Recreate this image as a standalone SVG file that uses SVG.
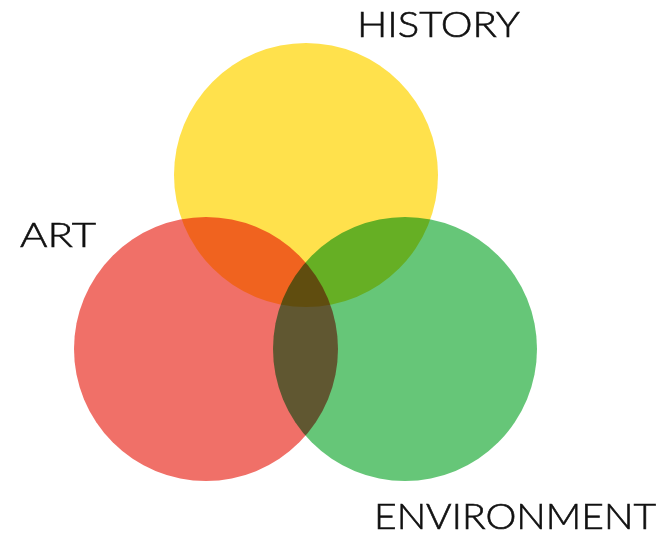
<svg xmlns="http://www.w3.org/2000/svg" width="671" height="535" viewBox="0 0 671 535">
<style>
.c{mix-blend-mode:multiply}
.t{font-family:Lato,"Liberation Sans",Arial,sans-serif;fill:#111;font-weight:300;stroke:#111;stroke-width:0.6}
</style>
<rect width="671" height="535" fill="#fff"/>
<g style="isolation:isolate">
<g id="history"><circle class="c" cx="306" cy="175" r="132" fill="#FFE14C"/></g>
<g id="art"><circle class="c" cx="206" cy="349" r="132" fill="#F07068"/></g>
<g id="environment"><circle class="c" cx="405" cy="349" r="132" fill="#66C678"/></g>
</g>
<g id="connectors"></g>
<g id="labels">
<text class="t" x="357" y="37" font-size="36" textLength="163" lengthAdjust="spacingAndGlyphs">HISTORY</text>
<text class="t" x="20" y="247" font-size="34" textLength="76" lengthAdjust="spacingAndGlyphs">ART</text>
<text class="t" x="374" y="529" font-size="35" textLength="282" lengthAdjust="spacingAndGlyphs">ENVIRONMENT</text>
</g>
</svg>
